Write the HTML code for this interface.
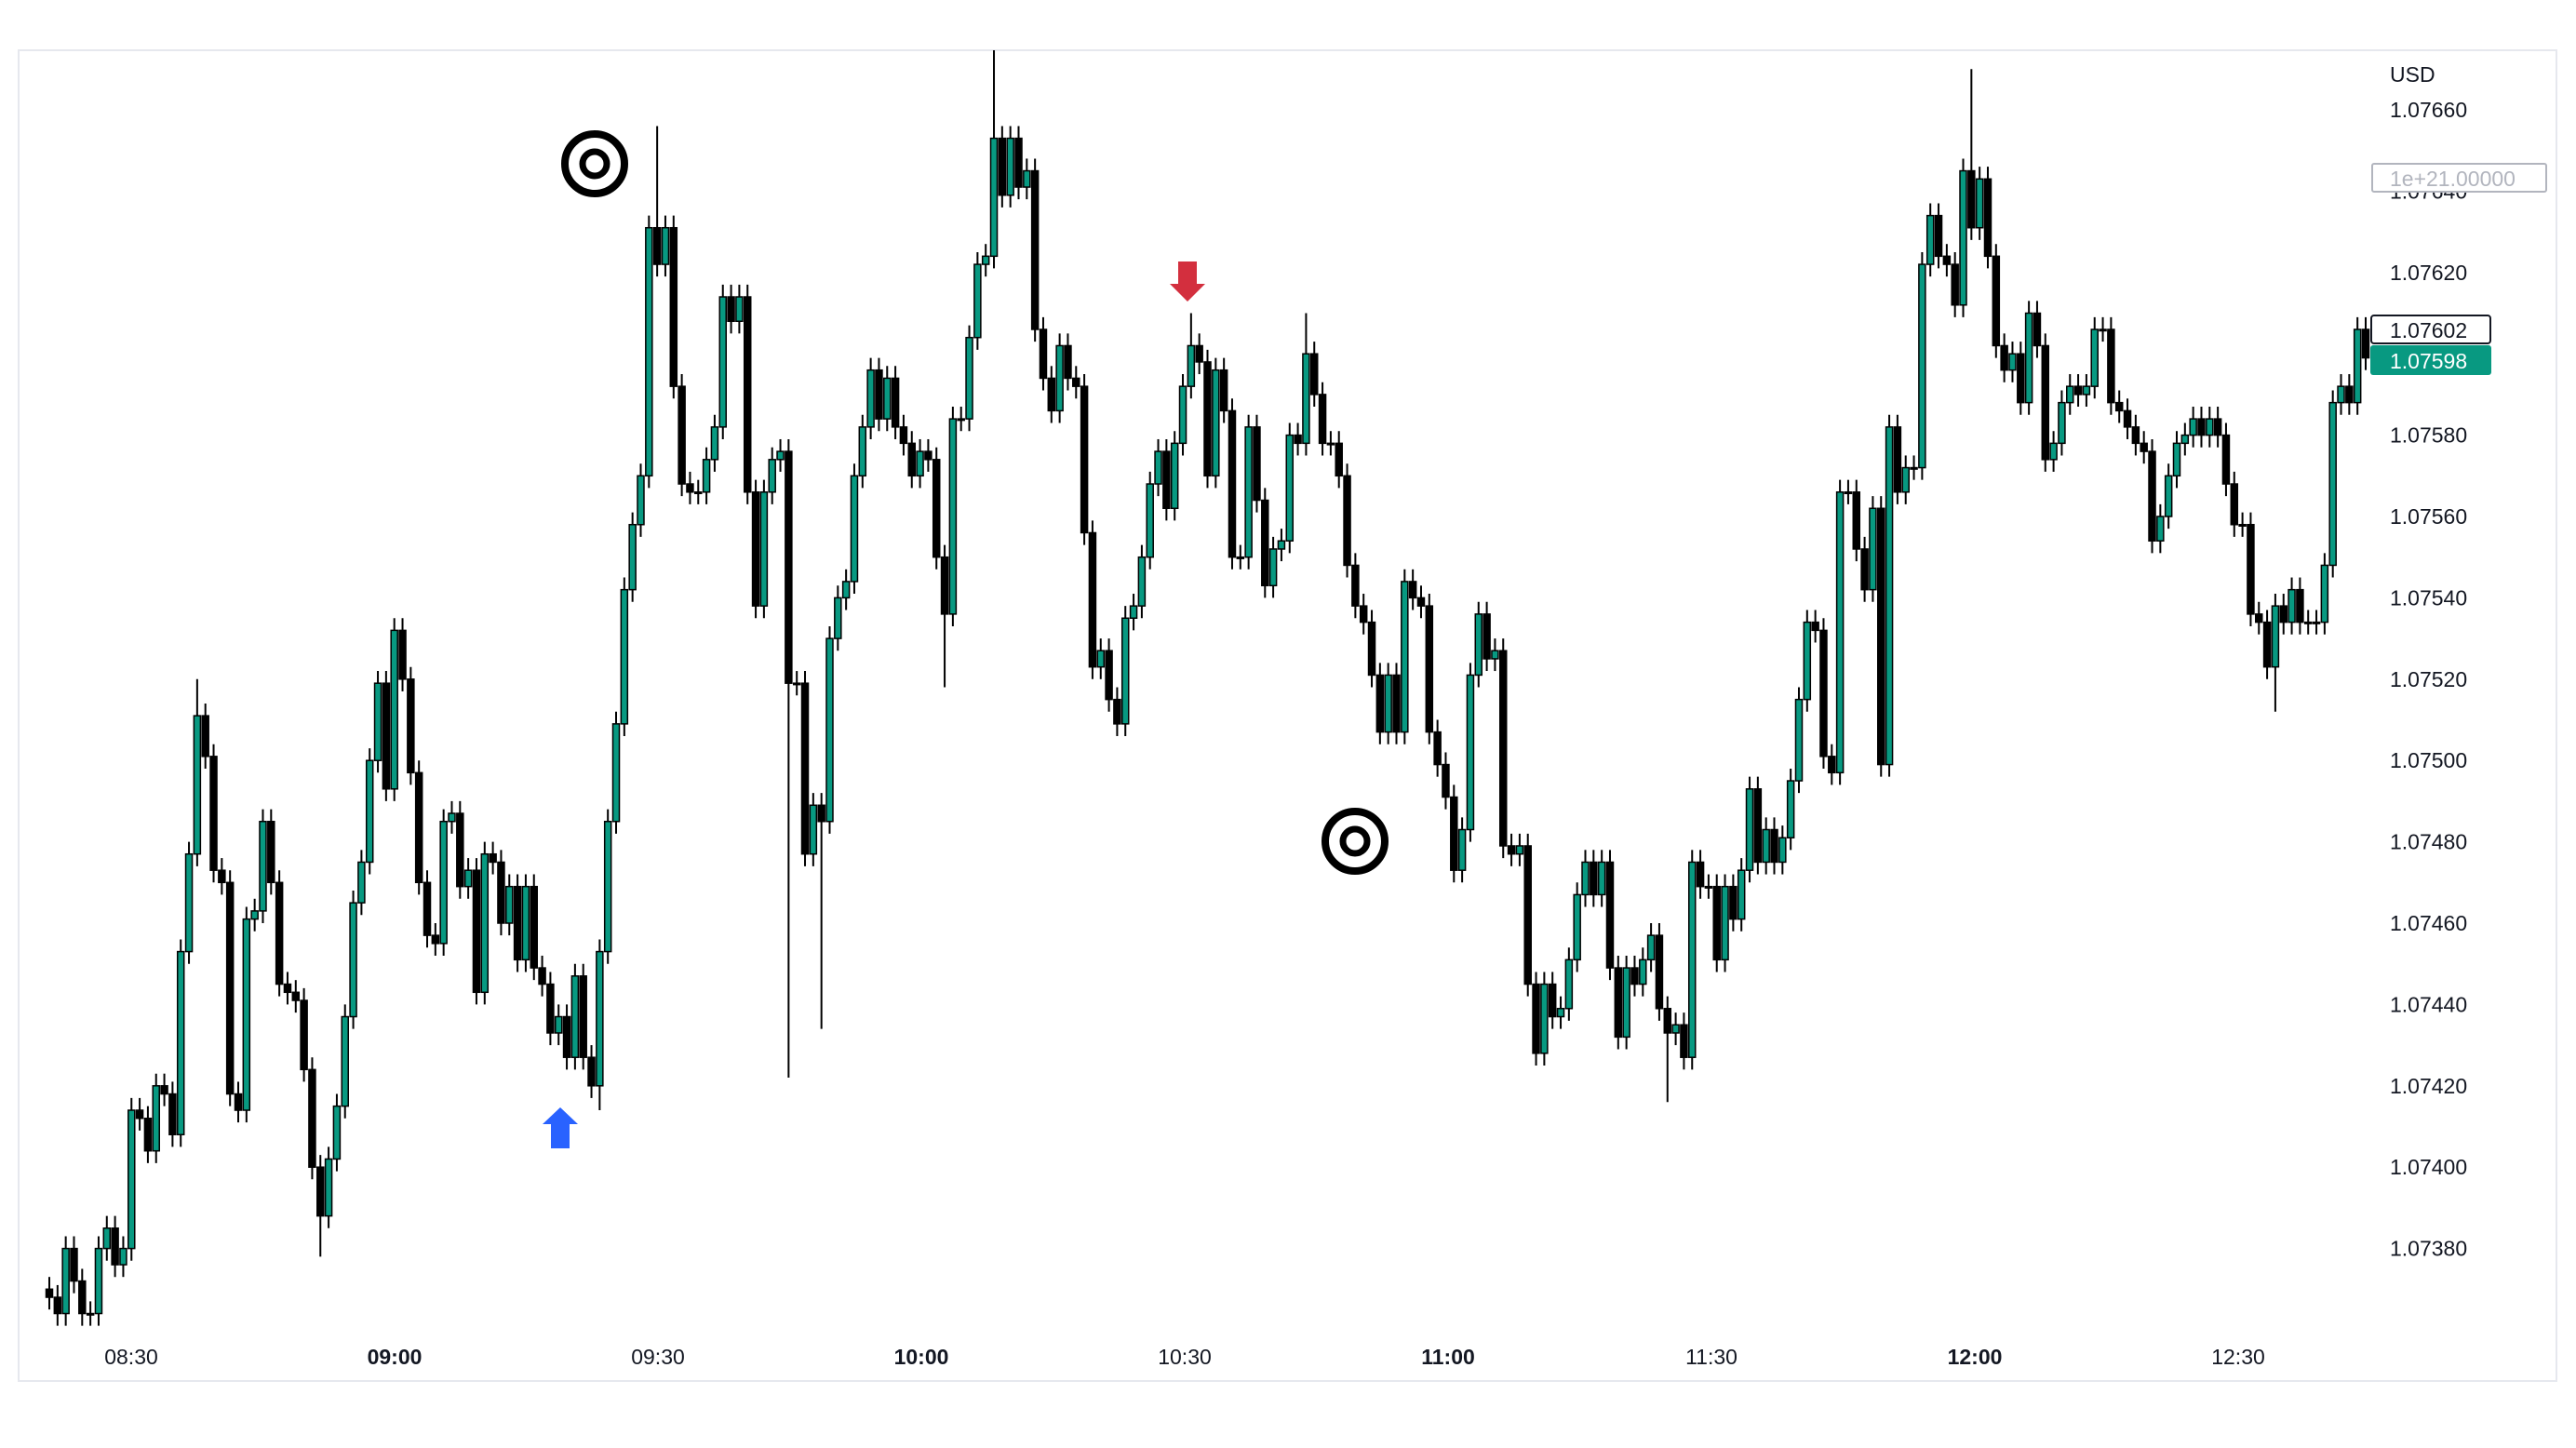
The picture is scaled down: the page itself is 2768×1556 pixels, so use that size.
<!DOCTYPE html>
<html><head><meta charset="utf-8"><style>
html,body{margin:0;padding:0;background:#fff;}
svg{display:block;font-family:"Liberation Sans",sans-serif;}
</style></head><body>
<svg id="chart" width="2768" height="1556" viewBox="0 0 2768 1556" xmlns="http://www.w3.org/2000/svg">
<rect x="20" y="54" width="2727" height="1430" fill="#fff" stroke="#e6e8ee" stroke-width="2"/>
<g id="candles"></g>
<g id="yaxis"></g>
<g id="xaxis"></g>
<text x="2568" y="88" font-size="23" fill="#131722">USD</text>
<g>
<rect x="2549" y="176" width="187" height="30" fill="#fff" stroke="#b2b5be" stroke-width="2" rx="2"/>
<text x="2568" y="200" font-size="23" fill="#b2b5be">1e+21.00000</text></g>
<g>
<rect x="2548" y="339" width="128" height="30" fill="#fff" stroke="#131722" stroke-width="2" rx="3"/>
<text x="2568" y="363" font-size="23" fill="#131722">1.07602</text></g>
<g>
<rect x="2547" y="371" width="130" height="32" fill="#089981" rx="3"/>
<text x="2568" y="396" font-size="23" fill="#fff">1.07598</text></g>
<g><circle cx="639" cy="176" r="32" fill="#fff" stroke="#000" stroke-width="8"/><circle cx="639" cy="176" r="13" fill="#fff" stroke="#000" stroke-width="7"/></g>
<g><circle cx="1456" cy="904" r="32" fill="#fff" stroke="#000" stroke-width="8"/><circle cx="1456" cy="904" r="13" fill="#fff" stroke="#000" stroke-width="7"/></g>
<polygon points="602,1190 621,1208 612,1208 612,1234 592,1234 592,1208 583,1208" fill="#2962ff"/>
<polygon points="1276,324 1295,305 1286,305 1286,281 1266,281 1266,305 1257,305" fill="#d32f3e"/>
</svg>
<script>
const closes=[368,364,380,372,364,364,380,385,376,380,414,412,404,420,418,408,453,477,511,501,473,470,418,414,461,463,485,470,445,443,441,424,400,388,402,415,437,465,475,500,519,493,532,520,497,470,457,455,485,487,469,473,443,477,475,460,469,451,469,449,445,433,437,427,447,427,420,453,485,509,542,558,570,631,622,631,592,568,566,566,574,582,614,608,614,566,538,566,574,576,519,519,477,489,485,530,540,544,570,582,596,584,594,582,578,570,576,574,550,536,584,584,604,622,624,653,639,653,641,645,606,594,586,602,594,592,556,523,527,515,509,535,538,550,568,576,562,578,592,602,598,570,596,586,550,550,582,564,543,552,554,580,578,600,590,578,578,570,548,538,534,521,507,521,507,544,540,538,507,499,491,473,483,521,536,525,527,479,477,479,445,428,445,437,439,451,467,475,467,475,449,432,449,445,451,457,439,433,435,427,475,469,469,451,469,461,473,493,475,483,475,481,495,515,534,532,501,497,566,566,552,542,562,499,582,566,572,572,622,634,624,622,612,645,631,643,624,602,596,600,588,610,602,574,578,588,592,590,592,606,606,588,586,582,578,576,554,560,570,578,580,584,580,584,580,568,558,558,536,534,523,538,534,542,534,534,534,548,588,592,588,606,599];
const firstOpen=370;
const wickHighIdx=[74,115,234,139,153,18];
const wickHighVal=[656,675,670,610,610,520];
const wickLowIdx=[90,94,33,109,197,67,271];
const wickLowVal=[422,434,378,518,416,414,512];
const yTicks=[1.0766,1.0764,1.0762,1.0760,1.0758,1.0756,1.0754,1.0752,1.0750,1.0748,1.0746,1.0744,1.0742,1.0740,1.0738];
const timeLabels=["08:30","09:00","09:30","10:00","10:30","11:00","11:30","12:00","12:30"];
const timeMinutes=[510,540,570,600,630,660,690,720,750];
const timeBold=[false,true,false,true,false,true,false,true,false];

const NS="http://www.w3.org/2000/svg";
const plotTop=54,plotBottom=1430;
function yOf(pip){return 118+(660-pip)*4.37;}
function yPrice(p){return yOf((p-1.07)*100000);}
function xCandle(i){return 53+i*(2542-53)/(closes.length-1);}
function xTime(m){return 141+(m-510)*(424-141)/30;}
function mk(t,a){const e=document.createElementNS(NS,t);for(const k in a)e.setAttribute(k,a[k]);return e;}
const cg=document.getElementById('candles');
for(let i=0;i<closes.length;i++){
  const o=i===0?firstOpen:closes[i-1],c=closes[i];
  let hi=Math.max(o,c)+3,lo=Math.min(o,c)-3;
  const hk=wickHighIdx.indexOf(i);if(hk>=0)hi=Math.max(hi,wickHighVal[hk]);
  const lk=wickLowIdx.indexOf(i);if(lk>=0)lo=Math.min(lo,wickLowVal[lk]);
  const x=xCandle(i);
  const clipY=v=>Math.min(plotBottom,Math.max(plotTop,v));
  const g=mk('g',{});
  
  
  const w=mk('line',{x1:x,x2:x,y1:clipY(yOf(hi)),y2:clipY(yOf(lo)),stroke:'#000','stroke-width':2});
  
  
  g.appendChild(w);
  const yt=clipY(yOf(Math.max(o,c))),yb=clipY(yOf(Math.min(o,c)));
  const b=mk('rect',{x:x-3.5,y:yt,width:7,height:Math.max(1.5,yb-yt),fill:c>=o?'#089981':'#000',stroke:'#000','stroke-width':1.5});
  
  
  g.appendChild(b);
  cg.appendChild(g);
}
const ya=document.getElementById('yaxis');
yTicks.forEach(p=>{
  const t=mk('text',{x:2568,y:yPrice(p)+8,'font-size':23,fill:'#131722'});
  
  
  t.textContent=p.toFixed(5);ya.appendChild(t);
});
const xa=document.getElementById('xaxis');
timeLabels.forEach((l,i)=>{
  const t=mk('text',{x:xTime(timeMinutes[i]),y:1466,'font-size':23,fill:'#131722','text-anchor':'middle','font-weight':timeBold[i]?'bold':'normal'});
  
  
  t.textContent=l;xa.appendChild(t);
});
</script>
</body></html>
